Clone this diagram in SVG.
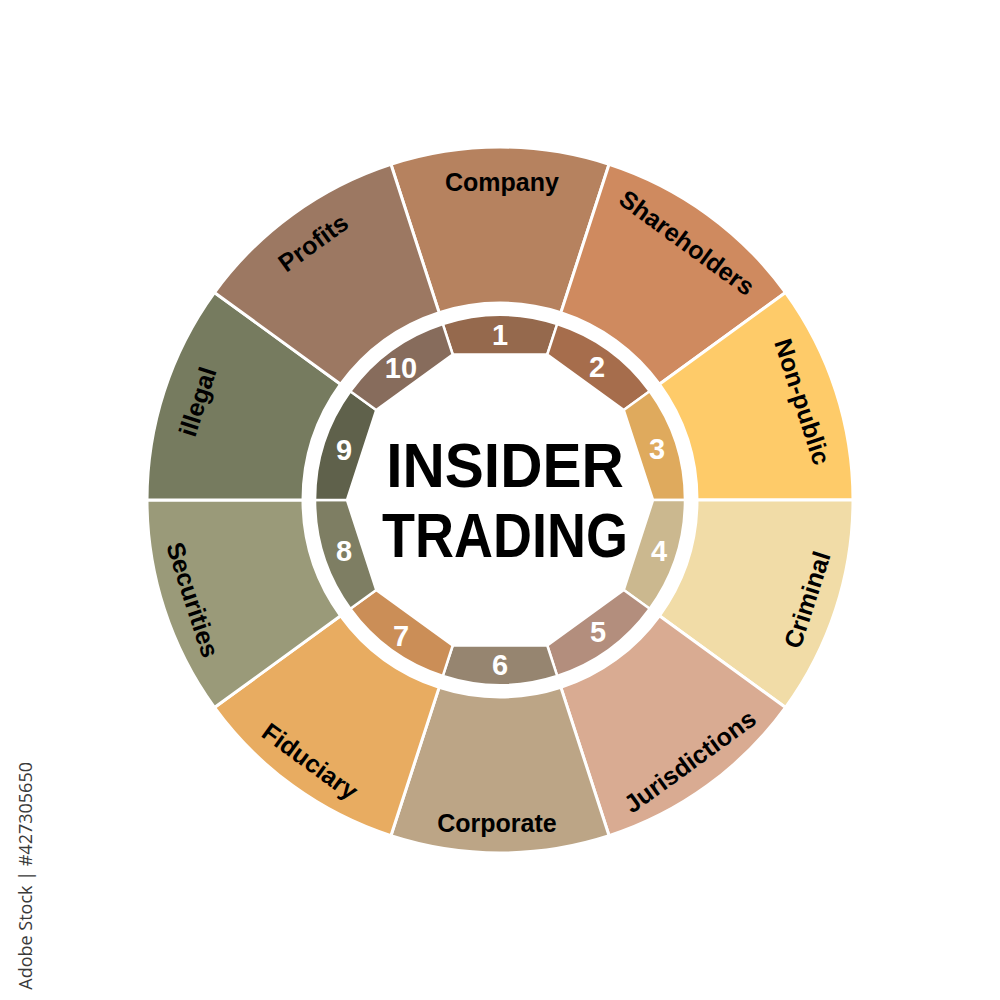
<svg xmlns="http://www.w3.org/2000/svg" width="1000" height="1000" viewBox="0 0 1000 1000">
<style>
.seg{stroke:#fff;stroke-width:3;stroke-linejoin:round}
.in{stroke:#fff;stroke-width:2.5;stroke-linejoin:round}
.lbl{font-family:"Liberation Sans",Arial,sans-serif;font-weight:bold;font-size:25px;fill:#000;text-anchor:middle}
.num{font-family:"Liberation Sans",Arial,sans-serif;font-weight:bold;font-size:29px;fill:#fff;text-anchor:middle}
.title{font-family:"Liberation Sans",Arial,sans-serif;font-weight:bold;font-size:63px;fill:#000;text-anchor:middle}
.wm{font-family:"Open Sans","Liberation Sans",sans-serif;font-size:18px;fill:#3a3a3a}
</style>
<rect width="1000" height="1000" fill="#fff"/>
<g id="outer">
<g id="seg-company"><path class="seg" fill="#B6825F" d="M390.92 164.28A353 353 0 0 1 609.08 164.28L560.88 312.64A197 197 0 0 0 439.12 312.64Z"/><text class="lbl" x="502" y="182" dy="0.35em">Company</text></g>
<g id="seg-shareholders"><path class="seg" fill="#CF8A5F" d="M609.08 164.28A353 353 0 0 1 785.58 292.51L659.38 384.21A197 197 0 0 0 560.88 312.64Z"/><text class="lbl" x="686.92" y="242.73" dy="0.35em" transform="rotate(36 686.92 242.73)">Shareholders</text></g>
<g id="seg-nonpublic"><path class="seg" fill="#FECB69" d="M785.58 292.51A353 353 0 0 1 853 500L697 500A197 197 0 0 0 659.38 384.21Z"/><text class="lbl" x="802.44" y="401.73" dy="0.35em" transform="rotate(72 802.44 401.73)">Non-public</text></g>
<g id="seg-criminal"><path class="seg" fill="#F1DCA7" d="M853 500A353 353 0 0 1 785.58 707.49L659.38 615.79A197 197 0 0 0 697 500Z"/><text class="lbl" x="807.19" y="599.81" dy="0.35em" transform="rotate(-72 807.19 599.81)">Criminal</text></g>
<g id="seg-jurisdictions"><path class="seg" fill="#D9AB92" d="M785.58 707.49A353 353 0 0 1 609.08 835.72L560.88 687.36A197 197 0 0 0 659.38 615.79Z"/><text class="lbl" x="689.86" y="761.31" dy="0.35em" transform="rotate(-36 689.86 761.31)">Jurisdictions</text></g>
<g id="seg-corporate"><path class="seg" fill="#BCA586" d="M609.08 835.72A353 353 0 0 1 390.92 835.72L439.12 687.36A197 197 0 0 0 560.88 687.36Z"/><text class="lbl" x="497" y="823" dy="0.35em">Corporate</text></g>
<g id="seg-fiduciary"><path class="seg" fill="#E8AC61" d="M390.92 835.72A353 353 0 0 1 214.42 707.49L340.62 615.79A197 197 0 0 0 439.12 687.36Z"/><text class="lbl" x="310.14" y="761.31" dy="0.35em" transform="rotate(36 310.14 761.31)">Fiduciary</text></g>
<g id="seg-securities"><path class="seg" fill="#9A9A79" d="M214.42 707.49A353 353 0 0 1 147 500L303 500A197 197 0 0 0 340.62 615.79Z"/><text class="lbl" x="192.81" y="599.81" dy="0.35em" transform="rotate(72 192.81 599.81)">Securities</text></g>
<g id="seg-illegal"><path class="seg" fill="#767B5F" d="M147 500A353 353 0 0 1 214.42 292.51L340.62 384.21A197 197 0 0 0 303 500Z"/><text class="lbl" x="197.56" y="401.73" dy="0.35em" transform="rotate(-72 197.56 401.73)">illegal</text></g>
<g id="seg-profits"><path class="seg" fill="#9C7862" d="M214.42 292.51A353 353 0 0 1 390.92 164.28L439.12 312.64A197 197 0 0 0 340.62 384.21Z"/><text class="lbl" x="313.08" y="242.73" dy="0.35em" transform="rotate(-36 313.08 242.73)">Profits</text></g>
</g>
<g id="inner">
<g id="num-1"><path class="in" fill="#95694D" d="M442.83 324.05A185 185 0 0 1 557.17 324.05L547.28 354.49L452.72 354.49Z"/><text class="num" x="500" y="335" dy="0.36em">1</text></g>
<g id="num-2"><path class="in" fill="#A66D4C" d="M557.17 324.05A185 185 0 0 1 649.67 391.26L623.78 410.07L547.28 354.49Z"/><text class="num" x="596.99" y="366.51" dy="0.36em">2</text></g>
<g id="num-3"><path class="in" fill="#DFAA5D" d="M649.67 391.26A185 185 0 0 1 685 500L653 500L623.78 410.07Z"/><text class="num" x="657" y="449.01" dy="0.36em">3</text></g>
<g id="num-4"><path class="in" fill="#CBB88F" d="M685 500A185 185 0 0 1 649.67 608.74L623.78 589.93L653 500Z"/><text class="num" x="659" y="550.99" dy="0.36em">4</text></g>
<g id="num-5"><path class="in" fill="#B38E7D" d="M649.67 608.74A185 185 0 0 1 557.17 675.95L547.28 645.51L623.78 589.93Z"/><text class="num" x="598" y="632" dy="0.36em">5</text></g>
<g id="num-6"><path class="in" fill="#968570" d="M557.17 675.95A185 185 0 0 1 442.83 675.95L452.72 645.51L547.28 645.51Z"/><text class="num" x="500" y="665" dy="0.36em">6</text></g>
<g id="num-7"><path class="in" fill="#CB8E57" d="M442.83 675.95A185 185 0 0 1 350.33 608.74L376.22 589.93L452.72 645.51Z"/><text class="num" x="401" y="636" dy="0.36em">7</text></g>
<g id="num-8"><path class="in" fill="#7E7E63" d="M350.33 608.74A185 185 0 0 1 315 500L347 500L376.22 589.93Z"/><text class="num" x="344" y="550.99" dy="0.36em">8</text></g>
<g id="num-9"><path class="in" fill="#5F614B" d="M315 500A185 185 0 0 1 350.33 391.26L376.22 410.07L347 500Z"/><text class="num" x="344" y="450" dy="0.36em">9</text></g>
<g id="num-10"><path class="in" fill="#876C5C" d="M350.33 391.26A185 185 0 0 1 442.83 324.05L452.72 354.49L376.22 410.07Z"/><text class="num" x="401" y="368" dy="0.36em">10</text></g>
</g>
<g id="center">
<text class="title" x="0" y="0" transform="translate(505 487) scale(0.93 1)">INSIDER</text>
<text class="title" x="0" y="0" transform="translate(505 557) scale(0.857 1)">TRADING</text>
</g>
<g id="connectors"/>
<text class="wm" x="0" y="0" text-anchor="end" transform="translate(32 762) rotate(-90)">Adobe Stock | #427305650</text>
</svg>
